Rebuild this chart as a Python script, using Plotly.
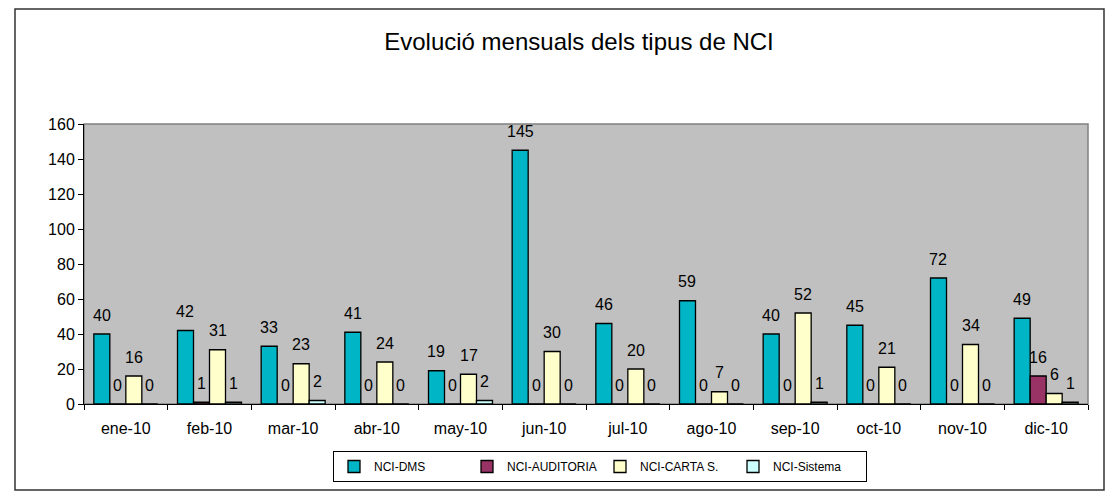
import plotly.graph_objects as go

months = ["ene-10", "feb-10", "mar-10", "abr-10", "may-10", "jun-10",
          "jul-10", "ago-10", "sep-10", "oct-10", "nov-10", "dic-10"]
series_names = ["NCI-DMS", "NCI-AUDITORIA", "NCI-CARTA S.", "NCI-Sistema"]
nci_dms = [40, 42, 33, 41, 19, 145, 46, 59, 40, 45, 72, 49]
nci_auditoria = [0, 1, 0, 0, 0, 0, 0, 0, 0, 0, 0, 16]
nci_carta = [16, 31, 23, 24, 17, 30, 20, 7, 52, 21, 34, 6]
nci_sistema = [0, 1, 2, 0, 2, 0, 0, 0, 1, 0, 0, 1]
colors = ["#00B5C6", "#993366", "#FFFFCC", "#CCFFFF"]
y_ticks = [0, 20, 40, 60, 80, 100, 120, 140, 160]

W, H = 1113, 500
ML, MR, MT, MB = 84, 25, 124, 96
plot_w = W - ML - MR
bargap = 0.235
bar_px = plot_w / len(months) * (1 - bargap) / 4

font = "Liberation Sans, Arial, sans-serif"
fig = go.Figure()
all_series = [nci_dms, nci_auditoria, nci_carta, nci_sistema]
annotations = []
for i, (name, vals) in enumerate(zip(series_names, all_series)):
    fig.add_trace(go.Bar(
        x=months, y=vals, name=name,
        marker=dict(color=colors[i], line=dict(color="black", width=1.3)),
    ))
    # value label centred above each bar
    for m, v in zip(months, vals):
        annotations.append(dict(
            x=m, y=v, xref="x", yref="y", text=str(v), showarrow=False,
            xshift=(i - 1.5) * bar_px, yshift=19, yanchor="middle",
            font=dict(family=font, size=16, color="black"),
        ))

fig.update_layout(
    width=W, height=H,
    margin=dict(l=ML, r=MR, t=MT, b=MB),
    paper_bgcolor="white", plot_bgcolor="#C0C0C0",
    barmode="group", bargap=bargap, bargroupgap=0,
    title=dict(text="Evolució mensuals dels tipus de NCI",
               x=579 / W, xref="container", xanchor="center",
               y=1 - 42 / H, yref="container", yanchor="middle",
               font=dict(family=font, size=24, color="black")),
    font=dict(family=font, color="black"),
    showlegend=True,
    legend=dict(orientation="h", xref="container", yref="container",
                x=600 / W, xanchor="center", y=1 - 451 / H, yanchor="top",
                bgcolor="white", bordercolor="black", borderwidth=1,
                font=dict(family=font, size=12),
                itemwidth=30, entrywidth=88, entrywidthmode="pixels",
                itemclick=False, traceorder="normal"),
    annotations=annotations,
    shapes=[
        # plot-area frame
        dict(type="rect", xref="paper", yref="paper", x0=0, x1=1, y0=0, y1=1,
             line=dict(color="#808080", width=1.5), layer="below"),
        # chart-area frame
        dict(type="rect", xref="paper", yref="paper",
             x0=-(ML - 15) / plot_w, x1=1 + (1104 - (W - MR)) / plot_w,
             y0=-(490 - (H - MB)) / (H - MT - MB), y1=1 + (MT - 9) / (H - MT - MB),
             line=dict(color="#333333", width=1.5)),
    ],
)
fig.update_xaxes(
    type="category", showline=True, linecolor="black", linewidth=1,
    ticks="outside", tickson="boundaries", ticklen=5, tickcolor="black",
    ticklabelstandoff=10,
    showgrid=False, tickfont=dict(family=font, size=16, color="black"),
)
fig.update_yaxes(
    range=[0, 160], tickvals=y_ticks, showline=True, linecolor="black", linewidth=1,
    ticks="outside", ticklen=5, tickcolor="black", showgrid=False, zeroline=False,
    tickfont=dict(family=font, size=16, color="black"),
)

fig.write_html("out.html")
